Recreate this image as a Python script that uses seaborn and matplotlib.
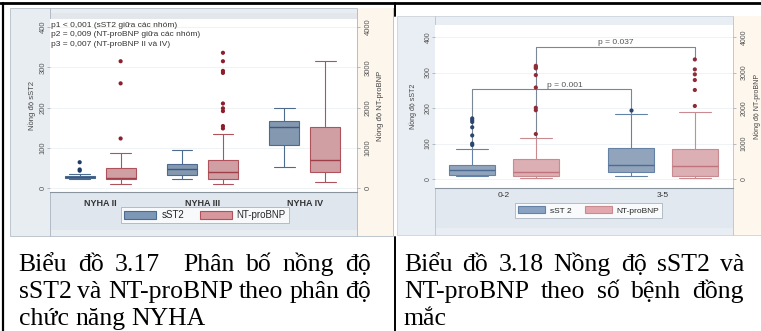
import re
import pandas as pd
import matplotlib
matplotlib.use("Agg")
import matplotlib.pyplot as plt
from matplotlib.patches import Rectangle, Patch
from matplotlib.lines import Line2D
import seaborn as sns

W, H = 761, 331

# ---------- Biểu đồ 3.17 : by NYHA class ----------
nyha_groups = ['NYHA II', 'NYHA III', 'NYHA IV']
# box summaries: [lower whisker, Q1, median, Q3, upper whisker]
nyha_sst2 = [[22, 25, 27, 30, 34], [22, 32, 48, 59, 94], [53, 107, 152, 167, 200]]
nyha_sst2_out = [[43, 46, 64], [], []]
nyha_bnp = [[90, 220, 240, 500, 880], [90, 220, 390, 690, 1340], [140, 390, 690, 1520, 3160]]
nyha_bnp_out = [[1230, 2600, 3150],
                [1480, 1540, 1910, 1980, 2100, 2860, 2910, 3150, 3360],
                []]
nyha_notes = ['p1 < 0,001 (sST2 giữa các nhóm)',
              'p2 = 0,009 (NT-proBNP giữa các nhóm)',
              'p3 = 0,007 (NT-proBNP II và IV)']

# ---------- Biểu đồ 3.18 : by number of comorbidities ----------
comorb_groups = ['0-2', '3-5']
comorb_sst2 = [[9, 13, 25, 41, 84], [9, 19, 41, 88, 184]]
comorb_sst2_out = [[96, 100, 123, 146, 161, 166, 171], [194]]
comorb_bnp = [[20, 90, 210, 555, 1160], [20, 80, 370, 860, 1900]]
comorb_bnp_out = [[1270, 1940, 2010, 2580, 2930, 3120, 3150, 3190],
                  [2060, 2510, 2790, 2950, 3090, 3370]]
p_sst2, bracket_sst2 = 'p = 0.001', 253
p_bnp, bracket_bnp = 'p = 0.037', 3720

markers = ['sST2', 'NT-proBNP']
caption_left = ['Biểu đồ 3.17  Phân bố nồng độ', 'sST2 và NT-proBNP theo phân độ', 'chức năng NYHA']
caption_right = ['Biểu đồ 3.18 Nồng độ sST2 và', 'NT-proBNP theo số bệnh đồng', 'mắc']

SANS = ['Liberation Sans', 'DejaVu Sans']
SERIF = ['Liberation Serif', 'DejaVu Serif']

sns.set_theme(style='white')
plt.rcParams['font.family'] = SANS


def to_long(groups, values, name):
    rows = [(g, v, name) for g, vals in zip(groups, values) for v in vals]
    return pd.DataFrame(rows, columns=['group', 'value', 'marker'])


def px_rect(x0, y0, x1, y1):
    return [x0 / W, 1 - y1 / H, (x1 - x0) / W, (y1 - y0) / H]


def fill_px(fig, x0, y0, x1, y1, color, edge='none', lw=0.0, z=-5):
    fig.add_artist(Rectangle((x0 / W, 1 - y1 / H), (x1 - x0) / W, (y1 - y0) / H,
                             transform=fig.transFigure, facecolor=color,
                             edgecolor=edge, linewidth=lw, zorder=z))


def line_px(fig, xs, ys, color, lw, z=-4):
    fig.add_artist(Line2D([x / W for x in xs], [1 - y / H for y in ys],
                          transform=fig.transFigure, color=color, linewidth=lw, zorder=z))


def draw_panel(ax, groups, sst2, sst2_out, bnp, bnp_out, col, xlim, ylim, fs):
    ax2 = ax.twinx()
    layers = [(ax, sst2, sst2_out, 'sST2'), (ax2, bnp, bnp_out, 'NT-proBNP')]
    for a, stats, outs, name in layers:
        sns.boxplot(data=to_long(groups, stats, name), x='group', y='value', hue='marker',
                    order=groups, hue_order=markers, palette=col['fill'], dodge=True,
                    width=0.8, gap=0.27, whis=(0, 100), showfliers=False,
                    linecolor=col['edge'][name], linewidth=0.8, capwidths=0.2,
                    medianprops={'color': col['median'][name], 'linewidth': 1.0},
                    legend=False, ax=a)
        sns.stripplot(data=to_long(groups, outs, name), x='group', y='value', hue='marker',
                      order=groups, hue_order=markers, palette=col['dot'], dodge=True,
                      jitter=False, size=3, linewidth=0, legend=False, ax=a, zorder=3)

    ax.set_xlim(*xlim)
    ax.set_ylim(*ylim)
    ax2.set_ylim(ylim[0] * 10, ylim[1] * 10)
    ax.set_yticks([0, 100, 200, 300, 400])
    ax2.set_yticks([0, 1000, 2000, 3000, 4000])
    ax.set_xticks(range(len(groups)))
    ax.set_xticklabels(groups, fontsize=fs['cat'], fontweight=fs['catw'], color='#333333')
    ax.set_xlabel('')
    ax.set_ylabel('')
    ax2.set_ylabel('')
    ax.set_facecolor('white')
    ax.yaxis.grid(True, color='#eef1f4', linewidth=0.6)
    ax.set_axisbelow(True)
    for a in (ax, ax2):
        for s in a.spines.values():
            s.set_visible(False)
    ax.spines['bottom'].set_visible(True)
    ax.spines['bottom'].set_color('#8a949e')
    ax.spines['bottom'].set_linewidth(0.8)
    ax.tick_params(axis='x', length=0, pad=fs['xpad'])
    ax.tick_params(axis='y', length=2, width=0.5, color='#9aa5b0', labelsize=fs['tick'],
                   labelcolor='#555555', pad=3)
    ax2.tick_params(axis='y', length=2, width=0.5, color='#9aa5b0', labelsize=fs['tick'],
                    labelcolor='#555555', pad=fs['rpad'])
    for lab in ax.get_yticklabels() + ax2.get_yticklabels():
        lab.set_rotation(90)
        lab.set_va('center')
        lab.set_ha('center')
    ax.text(fs['ylab_x'], 0.5, 'Nồng độ sST2', rotation=90, transform=ax.transAxes,
            ha='center', va='center', fontsize=fs['ylab'], color='#444444')
    ax2.text(fs['ylab2_x'], 0.5, 'Nồng độ NT-proBNP', rotation=90, transform=ax.transAxes,
             ha='center', va='center', fontsize=fs['ylab'], color='#444444')
    handles = [Patch(facecolor=col['fill'][m], edgecolor=col['edge'][m], linewidth=0.8)
               for m in markers]
    leg = ax2.legend(handles, fs['leg_labels'], ncol=2, loc='center',
                     bbox_to_anchor=fs['leg_pos'], frameon=True, fancybox=False,
                     fontsize=fs['leg'], handlelength=3.3, handleheight=0.9,
                     columnspacing=1.6, handletextpad=0.5, borderpad=0.35)
    leg.get_frame().set_edgecolor('#9aa5b1')
    leg.get_frame().set_linewidth(0.6)
    leg.get_frame().set_facecolor('white')
    return ax2


def caption(fig, lines, x0, x1, baselines, size):
    r = fig.canvas.get_renderer()
    space = 0.25 * size * fig.dpi / 72
    for k, (line, yb) in enumerate(zip(lines, baselines)):
        parts = re.split(r'( +)', line)
        words = parts[0::2]
        gaps = [len(s) for s in parts[1::2]]
        texts = [fig.text(0, 1 - yb / H, w, fontsize=size, family=SERIF, va='baseline',
                          color='black') for w in words]
        widths = [t.get_window_extent(r).width for t in texts]
        if k < len(lines) - 1 and gaps:
            unit = max((x1 - x0 - sum(widths)) / sum(gaps), 3.0)
        else:
            unit = space
        x = x0
        for t, w, g in zip(texts, widths, gaps + [0]):
            t.set_x(x / W)
            x += w + g * unit


fig = plt.figure(figsize=(W / 100, H / 100), dpi=100)
fig.patch.set_facecolor('white')

# ---------- left picture frame ----------
fill_px(fig, 10, 8, 393, 236, '#e8edf2', edge='#b4bec9', lw=0.6)
fill_px(fig, 357, 8, 393, 236, '#fcf6ec')
fill_px(fig, 50, 192, 357, 230, '#dfe6ed')
fill_px(fig, 50, 13, 357, 19, '#e3e6ea')
line_px(fig, [50, 50], [8, 236], '#aab4bf', 0.6)
line_px(fig, [357, 357], [8, 236], '#aab4bf', 0.6)

left_col = {
    'fill': {'sST2': '#7d97b7', 'NT-proBNP': '#d8979d'},
    'edge': {'sST2': '#4d6b8f', 'NT-proBNP': '#b0525c'},
    'median': {'sST2': '#3b5a80', 'NT-proBNP': '#9e3f49'},
    'dot': {'sST2': '#1f3c68', 'NT-proBNP': '#8c1f2d'},
}
left_fs = {'cat': 6.5, 'catw': 'bold', 'xpad': 5, 'tick': 5.5, 'rpad': 6, 'ylab': 5.5,
           'ylab_x': -0.058, 'ylab2_x': 1.075, 'leg': 7, 'leg_labels': ['sST2', 'NT-proBNP'],
           'leg_pos': (0.505, -0.133)}
axL = fig.add_axes(px_rect(50, 19, 357, 192))
axL2 = draw_panel(axL, nyha_groups, nyha_sst2, nyha_sst2_out, nyha_bnp, nyha_bnp_out,
                  left_col, (-0.49, 2.51), (-10, 420), left_fs)
for i, note in enumerate(nyha_notes):
    axL.text(0.004, 0.965 - i * 0.055, note, transform=axL.transAxes, ha='left',
             va='center', fontsize=6, color='#333333')

# ---------- right picture frame ----------
fill_px(fig, 397, 16, 761, 235, '#e9eef4', edge='#c4ccd5', lw=0.5)
fill_px(fig, 733, 16, 761, 235, '#fdf7ee')
fill_px(fig, 435, 188, 733, 228, '#e1e8ef')
line_px(fig, [435, 435], [16, 235], '#b8c1cb', 0.6)
line_px(fig, [733, 733], [16, 235], '#b8c1cb', 0.6)

right_col = {
    'fill': {'sST2': '#8aa3c2', 'NT-proBNP': '#e2a8ad'},
    'edge': {'sST2': '#6481a6', 'NT-proBNP': '#c98a90'},
    'median': {'sST2': '#4d6c93', 'NT-proBNP': '#c0737b'},
    'dot': {'sST2': '#2a4670', 'NT-proBNP': '#8f2b38'},
}
right_fs = {'cat': 6, 'catw': 'normal', 'xpad': 3, 'tick': 5, 'rpad': 6, 'ylab': 5,
            'ylab_x': -0.075, 'ylab2_x': 1.08, 'leg': 6, 'leg_labels': ['sST 2', 'NT-proBNP'],
            'leg_pos': (0.515, -0.138)}
axR = fig.add_axes(px_rect(435, 25, 733, 188))
axR2 = draw_panel(axR, comorb_groups, comorb_sst2, comorb_sst2_out, comorb_bnp, comorb_bnp_out,
                  right_col, (-0.434, 1.44), (-25, 434), right_fs)

# significance brackets: sST2 on left scale, NT-proBNP on right scale
br = '#7a8794'
axR.plot([-0.2, -0.2, 0.8, 0.8],
         [comorb_sst2[0][4], bracket_sst2, bracket_sst2, comorb_sst2[1][4]],
         color=br, linewidth=0.8, zorder=1)
axR.text(0.38, bracket_sst2 + 2, p_sst2, ha='center', va='bottom', fontsize=6, color='#555555')
axR2.plot([0.2, 0.2, 1.2, 1.2],
          [comorb_bnp[0][4], bracket_bnp, bracket_bnp, max(comorb_bnp_out[1])],
          color=br, linewidth=0.8, zorder=1)
axR2.text(0.7, bracket_bnp + 20, p_bnp, ha='center', va='bottom', fontsize=6, color='#555555')

# ---------- table borders ----------
line_px(fig, [0, 761], [3, 3], 'black', 2.0, z=5)
line_px(fig, [3, 3], [3, 331], 'black', 1.6, z=5)
line_px(fig, [395, 395], [3, 16], 'black', 1.4, z=5)
line_px(fig, [395, 395], [237, 331], 'black', 1.4, z=5)

# ---------- captions ----------
caption(fig, caption_left, 18.5, 371, [271, 298, 325], 18.5)
caption(fig, caption_right, 404, 744, [271, 298, 325], 18.5)

fig.savefig('out.png', dpi=100)
